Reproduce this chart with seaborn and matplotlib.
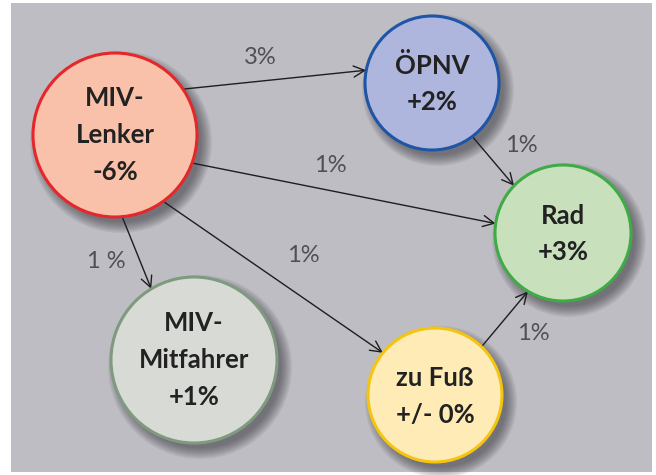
import numpy as np
import matplotlib.pyplot as plt
from matplotlib.patches import Circle, Rectangle
import seaborn as sns

# =======================
# DADOS
# =======================
modos = ["MIV-Lenker", "ÖPNV", "Rad", "MIV-Mitfahrer", "zu Fuß"]
rotulos = [["MIV-", "Lenker", "-6%"],
           ["ÖPNV", "+2%"],
           ["Rad", "+3%"],
           ["MIV-", "Mitfahrer", "+1%"],
           ["zu Fuß", "+/- 0%"]]

fluxo_de = ["MIV-Lenker", "MIV-Lenker", "ÖPNV", "MIV-Lenker", "MIV-Lenker", "zu Fuß"]
fluxo_para = ["ÖPNV", "Rad", "Rad", "MIV-Mitfahrer", "zu Fuß", "Rad"]
fluxo_txt = ["3%", "1%", "1%", "1 %", "1%", "1%"]

# =======================
# LAYOUT (pixels, y para baixo)
# =======================
pos = {"MIV-Lenker": (115, 135), "ÖPNV": (432, 83), "Rad": (563, 233),
       "MIV-Mitfahrer": (194, 360), "zu Fuß": (435, 395)}
raio = {"MIV-Lenker": 82, "ÖPNV": 67, "Rad": 68, "MIV-Mitfahrer": 83, "zu Fuß": 67}
cores = {"MIV-Lenker": ("#F9C1A9", "#E5262B"),
         "ÖPNV": ("#AEB6DD", "#1E55A6"),
         "Rad": ("#C8E0BC", "#3FAB47"),
         "MIV-Mitfahrer": ("#D8DBD5", "#7F9A7E"),
         "zu Fuß": ("#FFEBB6", "#F5C40F")}
# angulos de saida/chegada nas bordas dos circulos
ang_de = [-34, 20, 53, 85, 54, -46]
ang_para = [-169, -172, -136, -121, -141, 121]
pos_txt = [(260, 58), (330, 165), (521, 145), (106, 261), (303, 256), (533, 334)]

sns.set_theme(style="white")
plt.rcParams["font.family"] = ["Lato", "DejaVu Sans"]

fig = plt.figure(figsize=(6.56, 4.75), dpi=100)
ax = fig.add_axes([0, 0, 1, 1])
ax.set_xlim(0, 656)
ax.set_ylim(475, 0)
ax.set_aspect("equal")
ax.axis("off")

# fundo cinza
ax.add_patch(Rectangle((11, 3), 641, 469, facecolor="#BDBDC3", edgecolor="none", zorder=0))


def ponto(no, ang):
    cx, cy = pos[no]
    r = raio[no]
    a = np.deg2rad(ang)
    return cx + r * np.cos(a), cy + r * np.sin(a)


# setas
for i in range(len(fluxo_de)):
    p0 = ponto(fluxo_de[i], ang_de[i])
    p1 = ponto(fluxo_para[i], ang_para[i])
    ax.annotate("", xy=p1, xytext=p0,
                arrowprops=dict(arrowstyle="->", color="#1E1E1E", lw=1.0,
                                mutation_scale=20, shrinkA=0, shrinkB=0),
                zorder=2)
    ax.text(pos_txt[i][0], pos_txt[i][1], fluxo_txt[i], fontsize=17,
            color="#505054", fontweight="normal", ha="center", va="center", zorder=3)

# circulos com sombra
for i, no in enumerate(modos):
    cx, cy = pos[no]
    r = raio[no]
    for k in range(10):
        ax.add_patch(Circle((cx + 6, cy + 7), r + 9 - k * 1.2, facecolor="#2c2c32",
                            edgecolor="none", alpha=0.065, zorder=4))
    fundo, borda = cores[no]
    ax.add_patch(Circle((cx, cy), r, facecolor=fundo, edgecolor=borda, lw=2.2, zorder=5))
    linhas = rotulos[i]
    n = len(linhas)
    for j, txt in enumerate(linhas):
        dy = (j - (n - 1) / 2) * 37 + (1 if n == 2 else 0)
        ax.text(cx, cy + dy, txt, fontsize=18.5, fontweight="bold", color="#222222",
                ha="center", va="center", zorder=6)

plt.savefig("out.png", dpi=100)
